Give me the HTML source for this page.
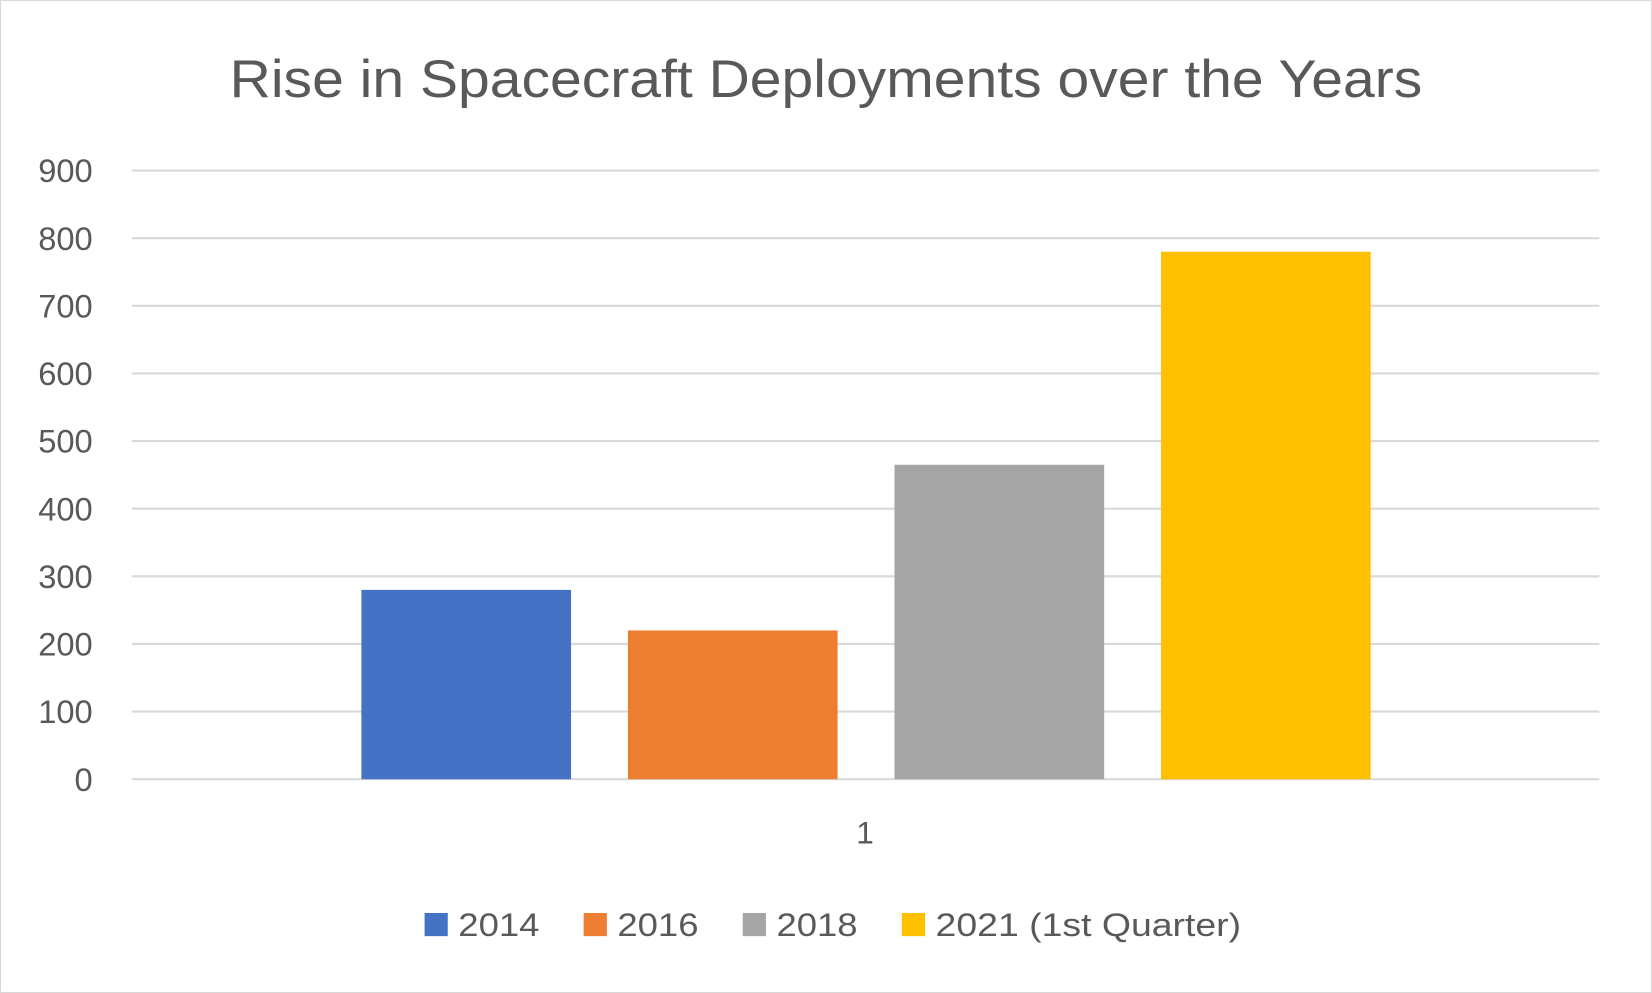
<!DOCTYPE html>
<html><head><meta charset="utf-8"><style>
html,body{margin:0;padding:0;background:#fff;}
svg{display:block;}
text{font-family:"Liberation Sans","DejaVu Sans",sans-serif;fill:#595959;}
</style></head><body>
<svg id="chart" width="1652" height="993" viewBox="0 0 1568 943" preserveAspectRatio="none">
<rect x="0.5" y="0.5" width="1567" height="942" fill="#fff" stroke="#d9d9d9" stroke-width="1"/>
<text x="218" y="92" font-size="50" textLength="1132" lengthAdjust="spacingAndGlyphs">Rise in Spacecraft Deployments over the Years</text>
<g id="grid"></g><g id="bars"></g><g id="legend"></g>
<text x="821" y="801" font-size="30" text-anchor="middle">1</text>
</svg>
<script>
const seriesNames=["2014","2016","2018","2021 (1st Quarter)"];
const seriesValues=[280,220,465,780];
const colors=["#4472c4","#ed7d31","#a5a5a5","#ffc000"];
const ticks=[0,100,200,300,400,500,600,700,800,900];
const NS="http://www.w3.org/2000/svg";
const y0=740,y9=162,max=900;
const yScale=v=>y0-(v/max)*(y0-y9);
const grid=document.getElementById('grid');
ticks.forEach(t=>{
 const l=document.createElementNS(NS,'line');
 l.setAttribute('x1',125);l.setAttribute('x2',1518);
 l.setAttribute('y1',yScale(t));l.setAttribute('y2',yScale(t));
 l.setAttribute('stroke','#d9d9d9');l.setAttribute('stroke-width',2);
 
 
 grid.appendChild(l);
 const tx=document.createElementNS(NS,'text');
 tx.setAttribute('x',88);tx.setAttribute('y',yScale(t)+11);
 tx.setAttribute('font-size',31);tx.setAttribute('text-anchor','end');
 tx.textContent=t;
 
 
 grid.appendChild(tx);
});
const bars=document.getElementById('bars');
const bw=199,gap=54,start=343;
seriesValues.forEach((v,i)=>{
 const r=document.createElementNS(NS,'rect');
 r.setAttribute('x',start+i*(bw+gap));r.setAttribute('width',bw);
 r.setAttribute('y',yScale(v));r.setAttribute('height',y0-yScale(v));
 r.setAttribute('fill',colors[i]);
 
 
 bars.appendChild(r);
});
const legend=document.getElementById('legend');
const lx=[403,554,705,856];
const lw=[77,77,77,290];
seriesNames.forEach((n,i)=>{
 const g=document.createElementNS(NS,'g');
 
 
 const s=document.createElementNS(NS,'rect');
 s.setAttribute('x',lx[i]);s.setAttribute('y',867);s.setAttribute('width',22);s.setAttribute('height',22);
 s.setAttribute('fill',colors[i]);
 const t=document.createElementNS(NS,'text');
 t.setAttribute('x',lx[i]+32);t.setAttribute('y',889);t.setAttribute('font-size',31);
 t.setAttribute('textLength',lw[i]);t.setAttribute('lengthAdjust','spacingAndGlyphs');
 t.textContent=n;
 g.appendChild(s);g.appendChild(t);legend.appendChild(g);
});
</script>
</body></html>
